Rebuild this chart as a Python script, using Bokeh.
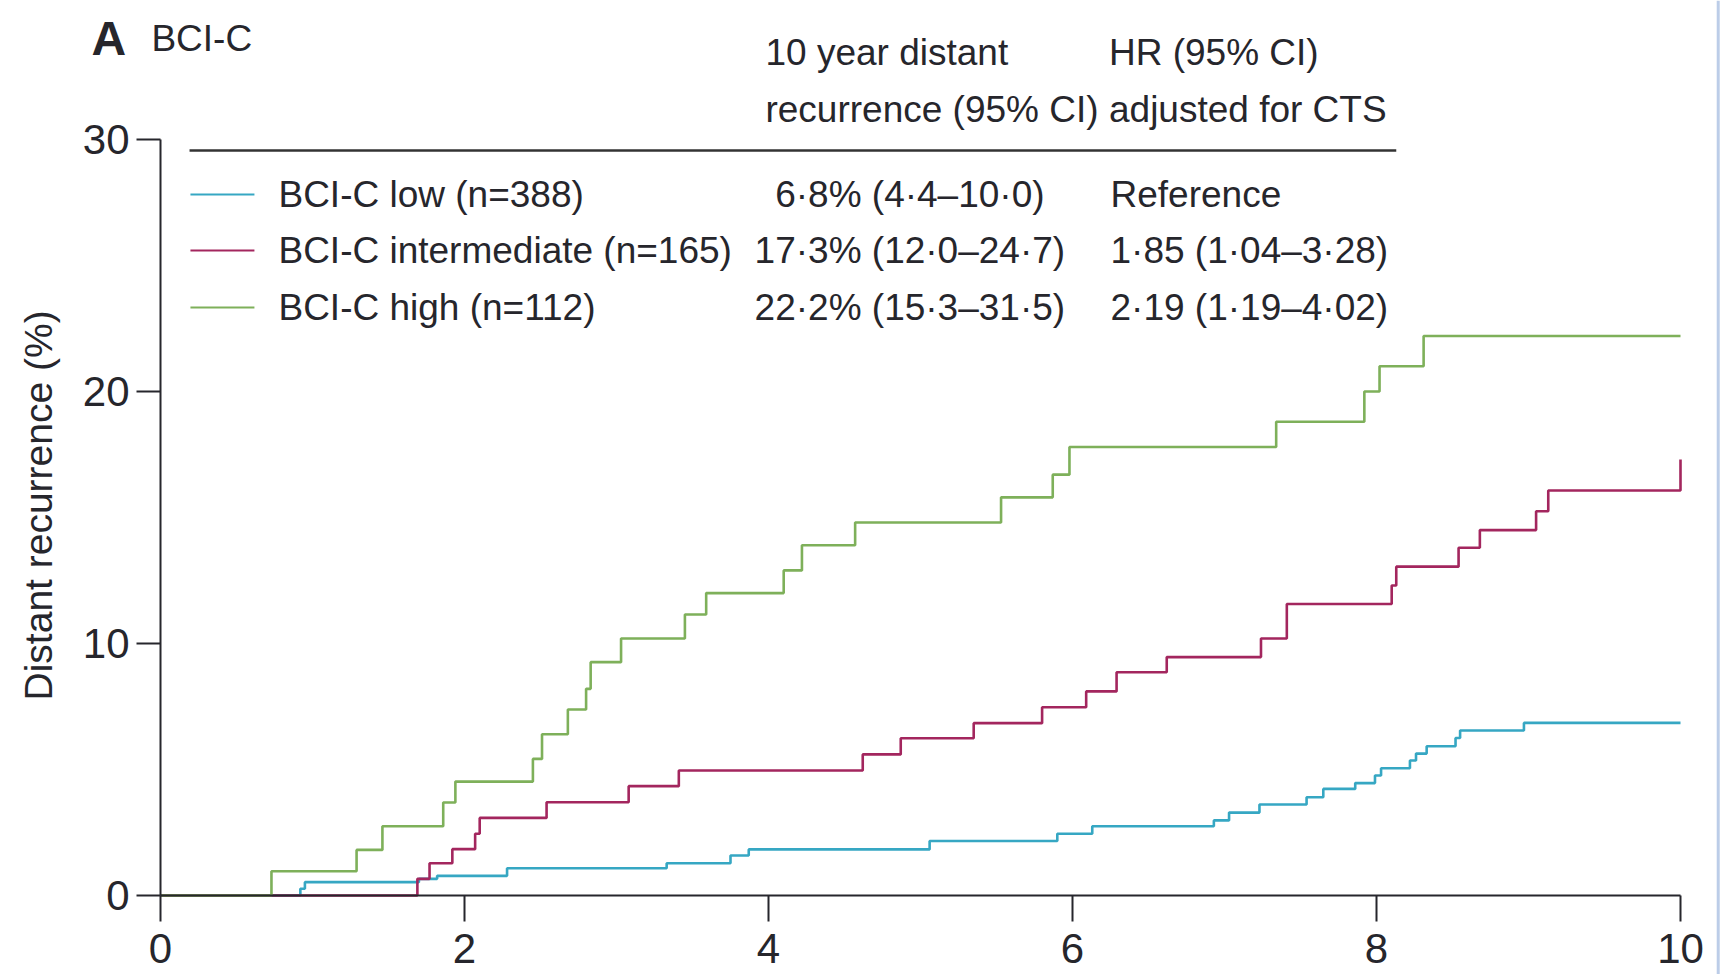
import math
from bokeh.plotting import figure
from bokeh.models import Range1d, FixedTicker, Span, LinearAxis
from bokeh.core.properties import value
from bokeh.embed import file_html
from bokeh.resources import INLINE

# ---- data ----
low_t = [0, 0.92, 0.95, 1.70, 1.82, 2.28, 3.33, 3.75, 3.87, 5.06, 5.90, 6.13, 6.93, 7.03, 7.23,
         7.54, 7.65, 7.86, 7.99, 8.03, 8.22, 8.26, 8.33, 8.52, 8.55, 8.97, 10.0]
low_v = [0, 0.27, 0.53, 0.66, 0.78, 1.08, 1.28, 1.59, 1.83, 2.16, 2.45, 2.75, 2.98, 3.29, 3.61,
         3.90, 4.23, 4.46, 4.76, 5.05, 5.36, 5.63, 5.92, 6.25, 6.55, 6.85, 6.85]

int_t = [0, 1.69, 1.77, 1.92, 2.07, 2.10, 2.54, 3.08, 3.41, 4.62, 4.87, 5.35, 5.80, 6.09, 6.29,
         6.62, 7.24, 7.41, 8.10, 8.13, 8.54, 8.68, 9.05, 9.13, 10.0]
int_v = [0, 0.66, 1.28, 1.84, 2.45, 3.08, 3.70, 4.34, 4.96, 5.60, 6.24, 6.84, 7.47, 8.10, 8.86,
         9.46, 10.20, 11.57, 12.30, 13.05, 13.80, 14.50, 15.25, 16.07, 17.30]

high_t = [0, 0.73, 1.29, 1.46, 1.86, 1.94, 2.45, 2.51, 2.68, 2.80, 2.83, 3.03, 3.45, 3.59, 4.10,
          4.22, 4.57, 5.53, 5.87, 5.98, 7.34, 7.92, 8.02, 8.31, 10.0]
high_v = [0, 0.96, 1.81, 2.75, 3.69, 4.52, 5.42, 6.40, 7.38, 8.20, 9.26, 10.20, 11.15, 12.00, 12.90,
          13.90, 14.80, 15.80, 16.70, 17.80, 18.80, 20.00, 21.00, 22.20, 22.20]

series_names = ["BCI-C low (n=388)", "BCI-C intermediate (n=165)", "BCI-C high (n=112)"]
recurrence_10y = ["6\u00b78% (4\u00b74\u201310\u00b70)", "17\u00b73% (12\u00b70\u201324\u00b77)",
                  "22\u00b72% (15\u00b73\u201331\u00b75)"]
hr_adjusted = ["Reference", "1\u00b785 (1\u00b704\u20133\u00b728)", "2\u00b719 (1\u00b719\u20134\u00b702)"]
header_col2 = ["10 year distant", "recurrence (95% CI)"]
header_col3 = ["HR (95% CI)", "adjusted for CTS"]
panel_letter = "A"
panel_title = "BCI-C"
y_label = "Distant recurrence (%)"
x_ticks = [0, 2, 4, 6, 8, 10]
y_ticks = [0, 10, 20, 30]

colors = ["#36A7C3", "#A3265E", "#7EB05A"]
TXT = "#26262c"
FONT = "Liberation Sans"
EDGE = "#bccde8"

# frame spans the whole canvas; 0..10 years -> 160..1680 px, 0 % at 895 px (25.2 px per %)
X0, XE = -160 / 152.0, 1560 / 152.0
Y0, YE = -(974 - 895) / 25.2, 895 / 25.2

p = figure(width=1720, height=974, output_backend="svg", toolbar_location=None,
           x_range=Range1d(X0, XE), y_range=Range1d(Y0, YE),
           x_axis_location=None, y_axis_location=None,
           min_border_left=0, min_border_right=0, min_border_top=0, min_border_bottom=0)
p.outline_line_color = None
p.xgrid.visible = False
p.ygrid.visible = False

for t, v, c in zip([low_t, int_t, high_t], [low_v, int_v, high_v], colors):
    p.step(x=t, y=v, mode="after", line_color=c, line_width=2.6)

xax = LinearAxis(fixed_location=0)
yax = LinearAxis(fixed_location=0)
p.add_layout(xax, "below")
p.add_layout(yax, "left")

for ax in (xax, yax):
    ax.axis_line_color = TXT
    ax.axis_line_width = 2
    ax.major_tick_line_color = TXT
    ax.major_tick_line_width = 2
    ax.major_tick_in = 0
    ax.minor_tick_line_color = None
    ax.major_label_text_font = FONT
    ax.major_label_text_color = TXT
    ax.major_label_text_font_size = "42px"

xax.ticker = FixedTicker(ticks=x_ticks)
xax.bounds = (0, 10)
xax.major_tick_out = 26
xax.major_label_standoff = 12

yax.ticker = FixedTicker(ticks=y_ticks)
yax.bounds = (0, 30)
yax.major_tick_out = 24
yax.major_label_standoff = 7

common = dict(text_font=value(FONT), text_font_size="37px", text_color=TXT, text_baseline="middle")

# y axis title
p.text(x=[-0.803], y=[15.48], text=[y_label], angle=math.pi / 2, text_align="center",
       text_font=value(FONT), text_font_size="39px", text_color=TXT, text_baseline="middle")

# panel title
p.text(x=[-0.454], y=[34.0], text=[panel_letter], text_font=value(FONT), text_font_size="48px",
       text_font_style="bold", text_color=TXT, text_baseline="middle", text_align="left")
p.text(x=[-0.06], y=[34.0], text=[panel_title], text_align="left", **common)

# table / legend
row_y = [27.82, 25.6, 23.33]
p.segment(x0=[0.197] * 3, x1=[0.618] * 3, y0=row_y, y1=row_y, line_color=colors, line_width=2)
p.segment(x0=[0.191], x1=[8.13], y0=[29.56], y1=[29.56], line_color="#333333", line_width=2.5)

p.text(x=[0.776] * 3, y=row_y, text=series_names, text_align="left", **common)
p.text(x=[4.93] * 3, y=row_y, text=recurrence_10y, text_align="center", **common)
p.text(x=[6.25] * 3, y=row_y, text=hr_adjusted, text_align="left", **common)
p.text(x=[3.98] * 2, y=[33.47, 31.2], text=header_col2, text_align="left", **common)
p.text(x=[6.24] * 2, y=[33.47, 31.2], text=header_col3, text_align="left", **common)

p.add_layout(Span(location=XE - 0.015, dimension="height", line_color=EDGE, line_width=3))

open("out.html", "w").write(file_html(p, INLINE))
